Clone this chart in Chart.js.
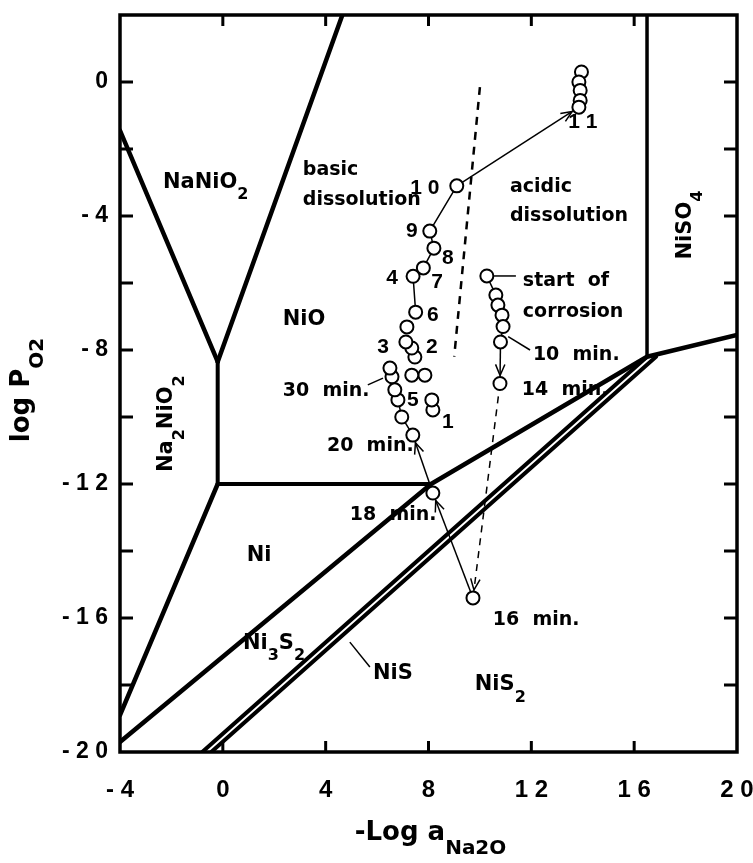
<!DOCTYPE html>
<html>
<head>
<meta charset="utf-8">
<script src="https://cdn.jsdelivr.net/npm/chart.js@4.4.1/dist/chart.umd.min.js"></script>
<style>
  html, body { margin: 0; padding: 0; background: #fff; }
  canvas { display: block; }
</style>
</head>
<body>
<canvas id="chart" width="753" height="863"></canvas>
<script>
// axis ticks (labels only every 4 units)
const xTickValues = [-4, 0, 4, 8, 12, 16, 20];
const xTickLabels = ['- 4', '0', '4', '8', '1 2', '1 6', '2 0'];
const yTickValues = [0, -4, -8, -12, -16, -20];
const yTickLabels = ['0', '- 4', '- 8', '- 1 2', '- 1 6', '- 2 0'];

// phase field boundaries, [-log aNa2O, log pO2]
const naNiO2Left = [[-4, -1.45], [-0.2, -8.35]];
const naNiO2Right = [[4.65, 2], [-0.2, -8.35]];
const na2NiO2Edge = [[-0.2, -8.35], [-0.2, -12]];
const niONiFlat = [[-0.2, -12], [8.1, -12]];
const na2NiO2Low = [[-0.2, -12], [-4, -18.9]];
const niOLower = [[-4, -19.7], [8.1, -12], [16.5, -8.2], [20, -7.55]];
const niSO4Edge = [[16.5, 2], [16.5, -8.2]];
const niSUpper = [[-0.8, -20], [16.5, -8.2]];
const niSLower = [[-0.45, -20], [16.85, -8.2]];
const acidBasic = [[10.0, -0.15], [9.0, -8.2]];

// measured points
const basicCluster = [[8.17, -9.79], [8.13, -9.49], [7.86, -8.75], [7.35, -8.75], [7.47, -8.21],
  [7.35, -7.94], [7.12, -7.76], [7.16, -7.31]];
const basicPath = [[7.5, -6.87], [7.4, -5.8], [7.8, -5.55], [8.21, -4.96], [8.05, -4.45], [9.1, -3.1]];
const run10to11 = [[9.1, -3.1], [13.85, -0.75]];
const point11 = [[13.95, 0.3], [13.85, 0], [13.9, -0.25], [13.9, -0.55], [13.85, -0.75]];
const corrosionStart = [[10.27, -5.79], [10.62, -6.36], [10.7, -6.66], [10.86, -6.96], [10.9, -7.3], [10.8, -7.76]];
const min10to14 = [[10.8, -7.76], [10.78, -9.0]];
const min14to16 = [[10.78, -9.0], [9.73, -15.4]];
const min16to18 = [[9.73, -15.4], [8.17, -12.27]];
const min18to20 = [[8.17, -12.27], [7.39, -10.54]];
const min20to30 = [[7.39, -10.54], [6.96, -10.0], [6.81, -9.49], [6.69, -9.19], [6.58, -8.8], [6.5, -8.54]];

// leader lines from labels
const startLeader = [[10.55, -5.79], [11.4, -5.79]];
const tenLeader = [[11.1, -7.6], [11.95, -8.0]];
const thirtyLeader = [[5.64, -9.04], [6.23, -8.84]];
const niSLeader = [[4.94, -16.72], [5.72, -17.46]];

// text in the plot: [text, x, y]
const fieldNames = [
  ['NaNiO_{2}', -2.33, -2.99],
  ['NiO', 2.33, -7.1],
  ['Ni', 0.93, -14.15],
  ['Ni_{3}S_{2}', 0.78, -16.75],
  ['NiS', 5.84, -17.67],
  ['NiS_{2}', 9.8, -18.0],
];
const verticalNames = [
  ['NiSO_{4}', 17.98, -4.27],
  ['Na_{2}NiO_{2}', -2.18, -10.2],
];
const notes = [
  ['basic', 3.11, -2.63],
  ['dissolution', 3.11, -3.52],
  ['acidic', 11.17, -3.13],
  ['dissolution', 11.17, -4.0],
  ['start  of', 11.67, -5.94],
  ['corrosion', 11.67, -6.87],
  ['10  min.', 12.06, -8.15],
  ['14  min.', 11.63, -9.19],
  ['30  min.', 2.33, -9.22],
  ['20  min.', 4.05, -10.87],
  ['18  min.', 4.94, -12.93],
  ['16  min.', 10.5, -16.06],
];
const runNumbers = [
  ['1 1', 14.0, -1.19],
  ['1 0', 7.86, -3.16],
  ['9', 7.35, -4.45],
  ['8', 8.75, -5.25],
  ['4', 6.58, -5.85],
  ['7', 8.33, -5.97],
  ['6', 8.17, -6.96],
  ['3', 6.23, -7.91],
  ['2', 8.13, -7.91],
  ['5', 7.39, -9.49],
  ['1', 8.75, -10.15],
];

const WORD = '"DejaVu Sans", sans-serif';
const DIGIT = '"Liberation Sans", Arial, sans-serif';

const xy = (pts) => pts.map(([x, y]) => ({ x, y }));

function boundary(pts, width) {
  return { data: xy(pts), showLine: true, borderColor: '#000', borderWidth: width,
    pointRadius: 0, fill: false, borderCapStyle: 'round', borderJoinStyle: 'round' };
}
function path(pts, opts = {}) {
  return Object.assign({ data: xy(pts), showLine: true, borderColor: '#000', borderWidth: 1.5,
    pointRadius: 0, fill: false }, opts);
}
function circles(pts, line) {
  return { data: xy(pts), showLine: !!line, borderColor: '#000', borderWidth: 1.5,
    pointRadius: 6.5, pointBorderWidth: 2, pointBackgroundColor: '#fff',
    pointBorderColor: '#000', fill: false };
}

function richParts(str) {
  const parts = [];
  const re = /_\{([^}]*)\}/g;
  let last = 0, m;
  while ((m = re.exec(str))) {
    if (m.index > last) parts.push({ t: str.slice(last, m.index), sub: false });
    parts.push({ t: m[1], sub: true });
    last = re.lastIndex;
  }
  if (last < str.length) parts.push({ t: str.slice(last), sub: false });
  return parts;
}

// left-aligned (or centred) text with lowered subscripts
function drawRich(ctx, str, x, y, size, align, family = WORD) {
  const parts = richParts(str);
  const main = `bold ${size}px ${family}`;
  const small = `bold ${Math.round(size * 0.75)}px ${family}`;
  let w = 0;
  parts.forEach((p) => { ctx.font = p.sub ? small : main; p.w = ctx.measureText(p.t).width; w += p.w; });
  let cx = align === 'center' ? x - w / 2 : x;
  ctx.textAlign = 'left';
  ctx.textBaseline = 'middle';
  parts.forEach((p) => {
    ctx.font = p.sub ? small : main;
    ctx.fillText(p.t, cx, p.sub ? y + size * 0.6 : y);
    cx += p.w;
  });
}

function arrowHead(ctx, x0, y0, x1, y1, back) {
  const a = Math.atan2(y1 - y0, x1 - x0);
  const tx = x1 - Math.cos(a) * back;
  const ty = y1 - Math.sin(a) * back;
  ctx.beginPath();
  [-0.4, 0.4].forEach((d) => {
    ctx.moveTo(tx, ty);
    ctx.lineTo(tx - Math.cos(a + d) * 12, ty - Math.sin(a + d) * 12);
  });
  ctx.stroke();
}

const diagramPlugin = {
  id: 'diagram',
  beforeDatasetsDraw(chart) {
    const { ctx, scales: { x, y } } = chart;
    ctx.save();
    ctx.fillStyle = '#000';
    fieldNames.forEach(([t, vx, vy]) => drawRich(ctx, t, x.getPixelForValue(vx), y.getPixelForValue(vy), 21, 'left'));
    verticalNames.forEach(([t, vx, vy]) => {
      ctx.save();
      ctx.translate(x.getPixelForValue(vx), y.getPixelForValue(vy));
      ctx.rotate(-Math.PI / 2);
      drawRich(ctx, t, 0, 0, 21, 'center');
      ctx.restore();
    });
    notes.forEach(([t, vx, vy]) => drawRich(ctx, t, x.getPixelForValue(vx), y.getPixelForValue(vy), 19, 'left'));
    runNumbers.forEach(([t, vx, vy]) => drawRich(ctx, t, x.getPixelForValue(vx), y.getPixelForValue(vy), 21, 'center', DIGIT));
    ctx.restore();
  },
  afterDatasetsDraw(chart) {
    const { ctx, chartArea: a, scales: { x, y } } = chart;
    ctx.save();
    ctx.strokeStyle = '#000';
    ctx.lineWidth = 1.5;
    chart.data.datasets.forEach((ds) => {
      if (!ds.arrow) return;
      const n = ds.data.length;
      const p0 = ds.data[n - 2], p1 = ds.data[n - 1];
      arrowHead(ctx, x.getPixelForValue(p0.x), y.getPixelForValue(p0.y),
        x.getPixelForValue(p1.x), y.getPixelForValue(p1.y), 8);
    });

    // frame and inward ticks
    ctx.lineWidth = 3.5;
    ctx.strokeRect(a.left, a.top, a.right - a.left, a.bottom - a.top);
    ctx.lineWidth = 3;
    ctx.beginPath();
    y.ticks.forEach((t) => {
      if (t.value <= y.min || t.value >= y.max) return;
      const py = y.getPixelForValue(t.value);
      ctx.moveTo(a.left, py); ctx.lineTo(a.left + 13, py);
      ctx.moveTo(a.right, py); ctx.lineTo(a.right - 13, py);
    });
    x.ticks.forEach((t) => {
      if (t.value <= x.min || t.value >= x.max) return;
      const px = x.getPixelForValue(t.value);
      ctx.moveTo(px, a.bottom); ctx.lineTo(px, a.bottom - 11);
      ctx.moveTo(px, a.top); ctx.lineTo(px, a.top + 11);
    });
    ctx.stroke();

    // axis titles
    ctx.fillStyle = '#000';
    drawRich(ctx, '-Log a_{Na2O}', (a.left + a.right) / 2 + 2, 833, 26, 'center');
    ctx.translate(22, 390);
    ctx.rotate(-Math.PI / 2);
    drawRich(ctx, 'log P_{O2}', 0, 0, 26, 'center');
    ctx.restore();
  },
};

const datasets = [
  circles(point11),
  circles(basicCluster),
  circles(basicPath, true),
  circles(corrosionStart, true),
  circles(min20to30, true),
  circles([min16to18[1], min14to16[1], min10to14[1]]),
  Object.assign(path(run10to11), { arrow: true }),
  Object.assign(path(min10to14), { arrow: true }),
  Object.assign(path(min14to16, { borderDash: [7, 6] }), { arrow: true }),
  Object.assign(path(min16to18), { arrow: true }),
  Object.assign(path(min18to20), { arrow: true }),
  path(startLeader),
  path(tenLeader),
  path(thirtyLeader),
  path(niSLeader),
  path(acidBasic, { borderWidth: 2.5, borderDash: [8, 7] }),
  boundary(naNiO2Left, 4.5),
  boundary(naNiO2Right, 4.5),
  boundary(na2NiO2Edge, 4),
  boundary(niONiFlat, 4),
  boundary(na2NiO2Low, 4.5),
  boundary(niOLower, 4.5),
  boundary(niSO4Edge, 3.5),
  boundary(niSUpper, 4),
  boundary(niSLower, 4),
];

// pin the plot area: no extra room for overhanging tick labels
function pinX(s) { s.height = 111; s.paddingLeft = 0; s.paddingRight = 0; }
function pinY(s) { s.width = 120; s.paddingTop = 0; s.paddingBottom = 0; }

new Chart(document.getElementById('chart'), {
  type: 'scatter',
  data: { datasets },
  options: {
    responsive: false,
    animation: false,
    layout: { padding: { top: 15, right: 16, left: 0, bottom: 0 } },
    plugins: { legend: { display: false }, tooltip: { enabled: false } },
    scales: {
      x: {
        type: 'linear', min: -4, max: 20,
        grid: { display: false, drawTicks: false },
        border: { display: false },
        afterFit: pinX,
        ticks: {
          stepSize: 4, autoSkip: false, maxRotation: 0, padding: 24, color: '#000',
          font: { family: DIGIT, weight: 'bold', size: 24 },
          callback: (v) => { const i = xTickValues.indexOf(v); return i < 0 ? '' : xTickLabels[i]; },
        },
      },
      y: {
        type: 'linear', min: -20, max: 2,
        grid: { display: false, drawTicks: false },
        border: { display: false },
        afterFit: pinY,
        ticks: {
          stepSize: 2, autoSkip: false, padding: 12, color: '#000',
          font: { family: DIGIT, weight: 'bold', size: 23 },
          callback: (v) => { const i = yTickValues.indexOf(v); return i < 0 ? '' : yTickLabels[i]; },
        },
      },
    },
  },
  plugins: [diagramPlugin],
});
</script>
</body>
</html>
